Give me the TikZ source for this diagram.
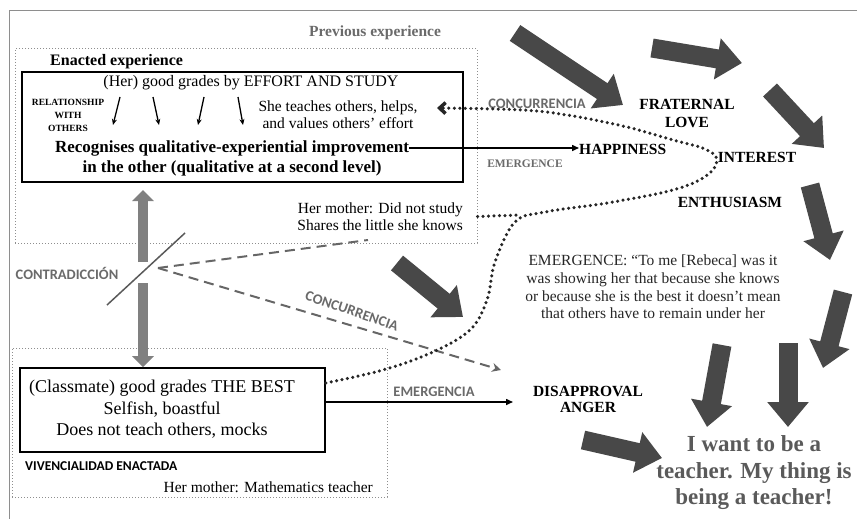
\documentclass[tikz,border=0pt]{standalone}
\usepackage{fontspec}
\setmainfont{Liberation Serif}
\setsansfont{Carlito}
\usetikzlibrary{arrows.meta,calc}

\definecolor{bigarrow}{HTML}{484848}
\definecolor{midgray}{HTML}{808080}
\definecolor{framegray}{HTML}{8E8E8E}
\definecolor{labelgray}{HTML}{6A6A6A}
\definecolor{teachgray}{HTML}{5A5A5A}

\begin{document}
\begin{tikzpicture}[x=1pt,y=-1pt]
\tikzstyle{every node}=[inner sep=0pt, align=center];
\tikzstyle{dotbox}=[draw=framegray, dotted, line width=1pt];
\tikzstyle{solidbox}=[draw=black, line width=1.6pt];
\tikzstyle{bigarr}=[draw=bigarrow, line width=19pt, -{Triangle[length=25pt,width=40pt]}];
\tikzstyle{greyarr}=[draw=midgray, line width=10pt, -{Triangle[length=11pt,width=21pt]}];
\tikzstyle{thinarr}=[draw=black, line width=1.5pt, -{Triangle[length=7pt,width=6pt]}];
\tikzstyle{smallarr}=[draw=black, line width=1.3pt, -{Stealth[length=6pt,width=5pt]}];
\tikzstyle{dashline}=[draw=black!60, line width=2pt, dash pattern=on 10pt off 6pt];
\tikzstyle{dotline}=[draw=black!85, line width=3.5pt, dash pattern=on 0pt off 5.5pt, line cap=round];
\tikzstyle{tagsans}=[font=\sffamily\bfseries\fontsize{14.5}{16}\selectfont, text=labelgray];
\tikzstyle{feel}=[font=\bfseries\fontsize{15.5}{18}\selectfont];
\tikzstyle{plain}=[font=\fontsize{15.5}{17.5}\selectfont];

\useasboundingbox (0,0) rectangle (857,519);
\draw[framegray, line width=1pt] (9,519) -- (9,11) -- (857,11);

% boxes
\node[dotbox, minimum width=462pt, minimum height=194pt] (prev) at (246,146) {};
\node[solidbox, minimum width=441pt, minimum height=110pt] (enact) at (242.5,127) {};
\node[dotbox, minimum width=375pt, minimum height=149pt] (viv) at (199.5,422.5) {};
\node[solidbox, minimum width=305pt, minimum height=84pt] (mate) at (172.5,410) {};

% upper texts
\node[font=\bfseries\fontsize{15.5}{18}\selectfont, text=labelgray] (prevlbl) at (375,33) {Previous experience};
\node[font=\bfseries\fontsize{16}{18}\selectfont, anchor=west] (enlbl) at (50,62) {Enacted experience};
\node[font=\fontsize{16}{18}\selectfont] (hergrades) at (251,83) {(Her) good grades by EFFORT AND STUDY};
\node[font=\bfseries\fontsize{9.5}{13}\selectfont] (relat) at (68,115) {RELATIONSHIP\\WITH\\OTHERS};
\node[plain, font=\fontsize{15.5}{17}\selectfont] (teaches) at (338,114.5) {She teaches others, helps,\\and values others' effort};
\node[font=\bfseries\fontsize{17}{20}\selectfont] (recog1) at (232,148) {Recognises qualitative-experiential improvement};
\node[font=\bfseries\fontsize{17}{20}\selectfont] (recog2) at (232,168) {in the other (qualitative at a second level)};
\node[plain, anchor=east, align=right] (momtop) at (463,216.5) {Her mother: Did not study\\Shares the little she knows};

\foreach \i/\xa/\xb in {1/120/113, 2/153/159, 3/204/198, 4/238/243} {
  \coordinate (ra\i) at (\xa,97);
  \coordinate (rb\i) at (\xb,125);
  \draw[smallarr] (ra\i) -- (rb\i);
}

% right side labels
\node[feel, anchor=west] (happy) at (579,149) {HAPPINESS};
\node[font=\bfseries\fontsize{11.5}{13}\selectfont, text=labelgray] (emtop) at (525,164) {EMERGENCE};
\node[tagsans] (contop) at (537,104) {CONCURRENCIA};
\node[feel] (frat) at (687,114) {FRATERNAL\\LOVE};
\node[feel] (inter) at (757,157) {INTEREST};
\node[feel] (enth) at (730,202) {ENTHUSIASM};
\node[plain, font=\fontsize{15.5}{17.7}\selectfont, text=black!85] (quote) at (653,287) {EMERGENCE: ``To me [Rebeca] was it\\was showing her that because she knows\\or because she is the best it doesn't mean\\that others have to remain under her};
\node[feel, font=\bfseries\fontsize{15.5}{15.5}\selectfont] (disap) at (588,399.5) {DISAPPROVAL\\ANGER};
\node[font=\bfseries\fontsize{23}{26.5}\selectfont, text=teachgray] (teach) at (754,473) {I want to be a\\teacher. My thing is\\being a teacher!};

% lower texts
\node[font=\fontsize{18}{21.5}\selectfont] (matetxt) at (162,409.5) {(Classmate) good grades THE BEST\\Selfish, boastful\\Does not teach others, mocks};
\node[font=\sffamily\bfseries\fontsize{13.5}{15}\selectfont, anchor=west] (vivlbl) at (25,466) {VIVENCIALIDAD ENACTADA};
\node[plain, anchor=east] (mombot) at (373,487) {Her mother: Mathematics teacher};
\node[tagsans] (contra) at (67,273) {CONTRADICCIÓN};
\node[tagsans] (emlow) at (434,392) {EMERGENCIA};
\node[tagsans, rotate=-19] (conlow) at (352,311) {CONCURRENCIA};

% contradiction
\coordinate (slashlo) at (107,305);
\coordinate (slashhi) at (185,233);
\coordinate (cross) at (158,268);
\coordinate (dashend) at (368,240);
\coordinate (dashtip) at (501,370);
\draw[black!65, line width=1.5pt] (slashlo) -- (slashhi);
\coordinate (upbot) at (143,262);
\coordinate (uptip) at (143,190);
\coordinate (dntop) at (143,283);
\draw[greyarr] (upbot) -- (uptip);
\draw[greyarr] (dntop) -- (dntop |- mate.north);
\draw[dashline] (cross) -- (dashend);
\draw[dashline, -{Stealth[length=9pt,width=9pt]}] (cross) -- (dashtip);

% emergence lines
\draw[thinarr] (recog1.east) -- (recog1.east -| happy.west);
\coordinate (disapend) at (513,402);
\draw[thinarr] (mate.east |- disapend) -- (disapend);

% dotted links
\coordinate (dotstart) at ($(mate.east)+(0,-27)$);
\coordinate (barbtip) at (437,108);
\coordinate (joint) at (520,215);
\draw[dotline, -{Straight Barb[length=6pt,width=11pt]}] plot[smooth, tension=0.6] coordinates {(dotstart) (383,370) (433,352) (470,330) (487,300) (495,262) (515,222) (545,212) (607,203) (673,190) (706,176) (717,160) (705,149) (673,140) (627,127) (573,116) (523,110) (barbtip)};
\draw[dotline] (prev.east |- momtop) -- (joint);

% big arrows
\foreach \n/\ax/\ay/\bx/\by in {1/515/33/623/105, 2/652/48/742/63, 3/770/90/824/148, 4/810/185/830/260, 5/843/292/823/368, 6/722/345/707/427, 7/788/343/788/427, 8/583/440/662/458, 9/397/263/463/317} {
  \coordinate (bt\n) at (\ax,\ay);
  \coordinate (bh\n) at (\bx,\by);
  \draw[bigarr] (bt\n) -- (bh\n);
}
\end{tikzpicture}
\end{document}
